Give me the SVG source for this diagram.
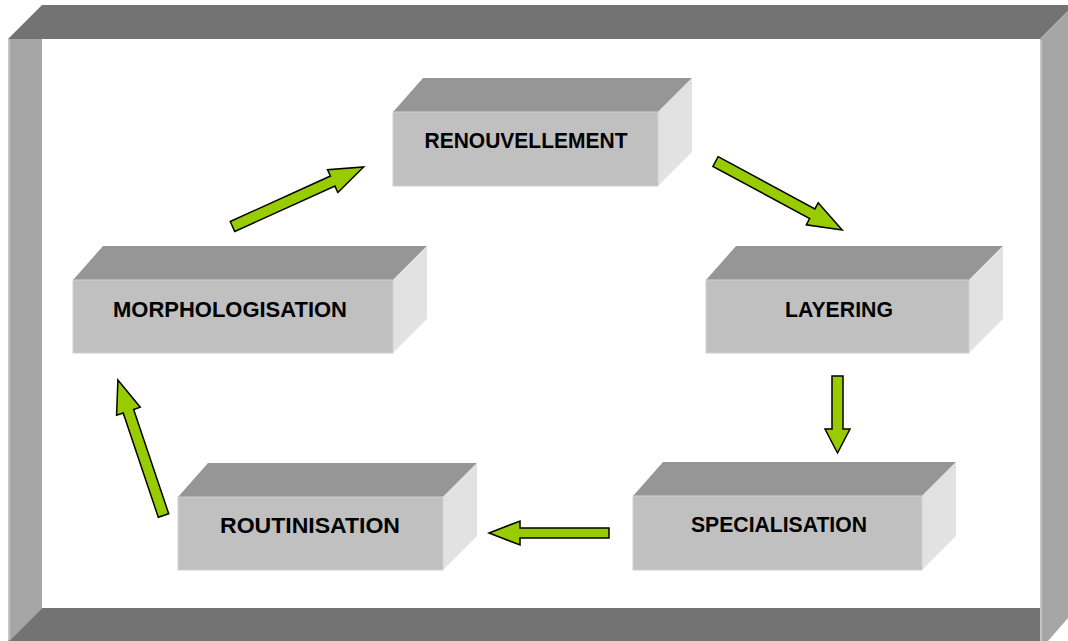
<svg xmlns="http://www.w3.org/2000/svg" width="1068" height="641" viewBox="0 0 1068 641">
<style>
.dark{fill:#737373}
.light{fill:#a6a6a6}
.top{fill:#969696}
.front{fill:#c0c0c0;stroke:#d0d0d0;stroke-width:1}
.side{fill:#e2e2e2}
.lbl{font-family:"Liberation Sans",Arial,sans-serif;font-weight:bold;font-size:22px;fill:#000;text-anchor:middle}
.arr{fill:#99cc00;stroke:#000;stroke-width:1.5;stroke-linejoin:miter}
</style>
<rect width="1068" height="641" fill="#fff"/>
<g id="frame">
<polygon class="dark" points="42,5 1068,5 1068,11 1040,39 8,39"/>
<polygon class="light" points="8,39 42,39 42,608 9,641 8,641"/>
<polygon class="dark" points="42,608 1040,608 1040,641 9,641"/>
<polygon class="light" points="1040,39 1068,11 1068,618 1048,641 1040,641"/>
<line x1="9" y1="39" x2="9" y2="640" stroke="#c4c4c4" stroke-width="2"/>
<line x1="1041" y1="40" x2="1041" y2="641" stroke="#c4c4c4" stroke-width="2"/>
</g>
<g id="renouvellement">
<polygon class="top" points="393,112 423,78 692,78 658,112"/>
<polygon class="side" points="658,112 692,78 692,152 658,186"/>
<rect class="front" x="393" y="112" width="265" height="74"/>
<text class="lbl" x="526" y="148" textLength="203" lengthAdjust="spacingAndGlyphs">RENOUVELLEMENT</text>
</g>
<g id="morphologisation">
<polygon class="top" points="73,280 103,246 427,246 393,280"/>
<polygon class="side" points="393,280 427,246 427,319 393,353"/>
<rect class="front" x="73" y="280" width="320" height="73"/>
<text class="lbl" x="230" y="317" textLength="234" lengthAdjust="spacingAndGlyphs">MORPHOLOGISATION</text>
</g>
<g id="layering">
<polygon class="top" points="706,280 736,246 1003,246 969,280"/>
<polygon class="side" points="969,280 1003,246 1003,319 969,353"/>
<rect class="front" x="706" y="280" width="263" height="73"/>
<text class="lbl" x="839" y="317" textLength="108" lengthAdjust="spacingAndGlyphs">LAYERING</text>
</g>
<g id="routinisation">
<polygon class="top" points="178,497 208,463 477,463 443,497"/>
<polygon class="side" points="443,497 477,463 477,536 443,570"/>
<rect class="front" x="178" y="497" width="265" height="73"/>
<text class="lbl" x="310" y="533" textLength="180" lengthAdjust="spacingAndGlyphs">ROUTINISATION</text>
</g>
<g id="specialisation">
<polygon class="top" points="633,496 663,462 956,462 922,496"/>
<polygon class="side" points="922,496 956,462 956,536 922,570"/>
<rect class="front" x="633" y="496" width="289" height="74"/>
<text class="lbl" x="779" y="532" textLength="176" lengthAdjust="spacingAndGlyphs">SPECIALISATION</text>
</g>
<g id="connectors">
<polygon class="arr" transform="translate(232.5,226.5) rotate(-24.4)" points="0,-5.5 110,-5.5 110,-12.5 144,0 110,12.5 110,5.5 0,5.5"/>
<polygon class="arr" transform="translate(715.5,161.5) rotate(28.4)" points="0,-5.5 110,-5.5 110,-12.5 144,0 110,12.5 110,5.5 0,5.5"/>
<polygon class="arr" transform="translate(837.5,376) rotate(90)" points="0,-5.5 53,-5.5 53,-12.5 77,0 53,12.5 53,5.5 0,5.5"/>
<polygon class="arr" transform="translate(609,533) rotate(180)" points="0,-5 89,-5 89,-12 120,0 89,12 89,5 0,5"/>
<polygon class="arr" transform="translate(163.5,515.5) rotate(-108.6)" points="0,-5.5 110,-5.5 110,-12.5 143,0 110,12.5 110,5.5 0,5.5"/>
</g>
</svg>
